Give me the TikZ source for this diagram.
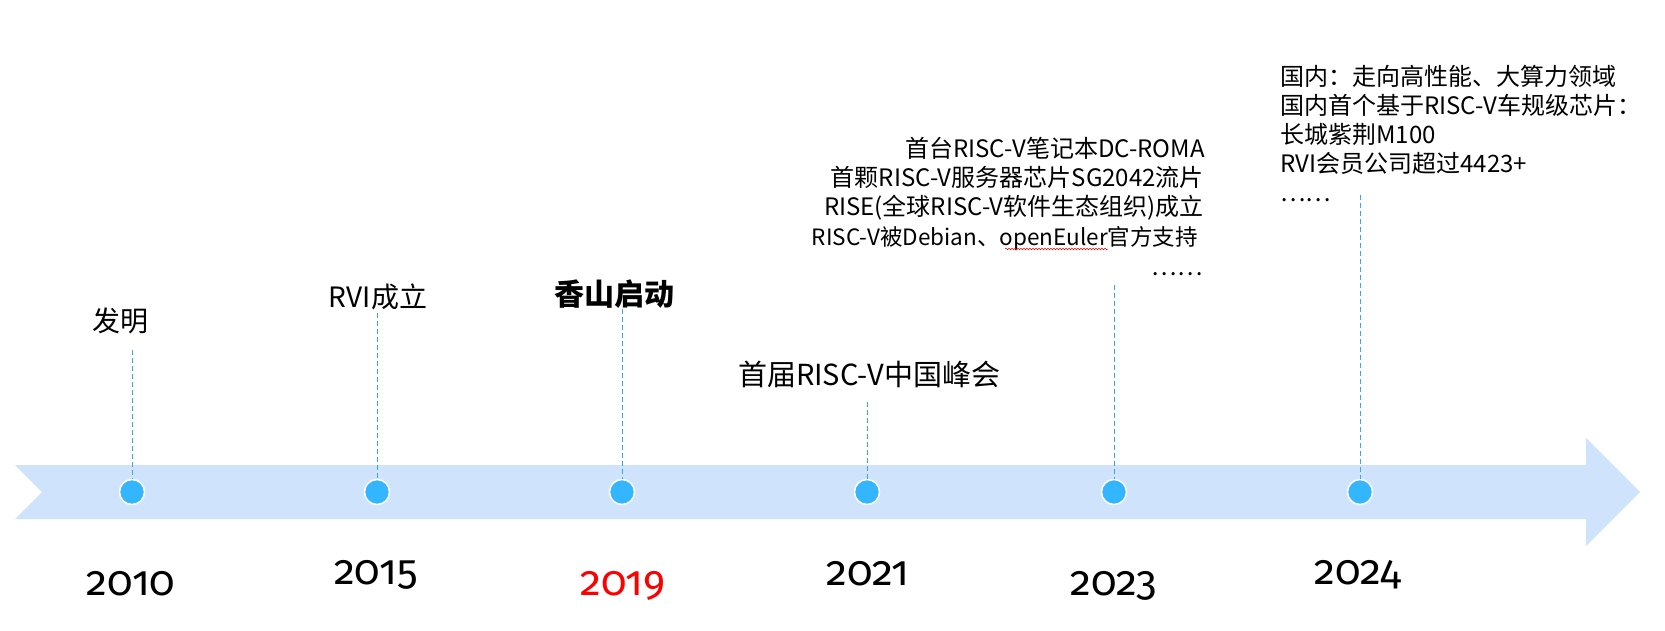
\documentclass[tikz,border=0pt]{standalone}
\usepackage{fontspec}
\newfontfamily\cjk{Noto Sans CJK SC}
\newfontfamily\yearfont[Numbers=OldStyle]{Fira Sans}
\usetikzlibrary{decorations.pathmorphing}
\definecolor{bandblue}{RGB}{207,228,252}
\definecolor{dotblue}{RGB}{51,181,255}
\definecolor{dashblue}{RGB}{58,168,232}
\definecolor{yearred}{RGB}{255,0,0}
\begin{document}
\begin{tikzpicture}[x=1pt,y=-1pt,
  dotnode/.style={circle,fill=dotblue,draw=white,line width=1.5pt,minimum size=25pt,inner sep=0pt},
  guide/.style={dashblue,line width=0.9pt,dash pattern=on 5pt off 3pt},
  yearlbl/.style={font=\yearfont\fontsize{42}{42}\selectfont,anchor=base,inner sep=0pt},
  evt/.style={font=\cjk\fontsize{28}{28}\selectfont,inner sep=0pt},
  blkline/.style={font=\cjk\fontsize{24}{24}\selectfont,inner sep=0pt}]
\useasboundingbox (0,0) rectangle (1665,631);
\fill[white] (0,0) rectangle (1665,631);
% band arrow
\fill[bandblue] (15,465) -- (1586,465) -- (1586,438) -- (1640,492) -- (1586,546)
  -- (1586,519) -- (15,519) -- (42,492) -- cycle;
% dots
\node[dotnode] (d10) at (132,492) {};
\node[dotnode] (d15) at (377,492) {};
\node[dotnode] (d19) at (622,492) {};
\node[dotnode] (d21) at (867,492) {};
\node[dotnode] (d23) at (1114,492) {};
\node[dotnode] (d24) at (1360,492) {};
% guide tops
\coordinate (g10) at (132,350);
\coordinate (g15) at (377,313);
\coordinate (g19) at (622,309);
\coordinate (g21) at (867,402);
\coordinate (g23) at (1114,285);
\coordinate (g24) at (1360,195);
\draw[guide] (g10) -- (d10.north);
\draw[guide] (g15) -- (d15.north);
\draw[guide] (g19) -- (d19.north);
\draw[guide] (g21) -- (d21.north);
\draw[guide] (g23) -- (d23.north);
\draw[guide] (g24) -- (d24.north);
% years
\node[yearlbl] (y10) at (131,595) {2010};
\node[yearlbl] (y15) at (376,584) {2015};
\node[yearlbl,text=yearred] (y19) at (623,595) {2019};
\node[yearlbl] (y21) at (868,585) {2021};
\node[yearlbl] (y23) at (1114,595) {2023};
\node[yearlbl] (y24) at (1358,584) {2024};
% event labels
\node[evt] (e10) at (120,321) {发明};
\node[evt] (e15) at (378,297) {RVI成立};
\node[evt,font=\cjk\bfseries\fontsize{30}{30}\selectfont] (e19) at (614,294) {香山启动};
\node[evt,font=\cjk\fontsize{29}{29}\selectfont] (e21) at (869,374) {首届RISC-V中国峰会};
% 2023 block
\node[blkline,anchor=base east] (a1) at (1205,158) {首台RISC-V笔记本DC-ROMA};
\node[blkline,anchor=base east] (a2) at (1204,187) {首颗RISC-V服务器芯片SG2042流片};
\node[blkline,anchor=base east] (a3) at (1204,216) {RISE(全球RISC-V软件生态组织)成立};
\node[blkline,anchor=base east,font=\cjk\fontsize{22.5}{22.5}\selectfont] (a4) at (1198,245) {RISC-V被Debian、openEuler官方支持};
\node[blkline,anchor=base east] (a5) at (1203,275) {……};
\draw[red,line width=0.5pt,decorate,decoration={snake,amplitude=0.8pt,segment length=3pt}] (1005,249) -- (1108,249);
% 2024 block
\node[blkline,anchor=base west] (b1) at (1280,86) {国内：走向高性能、大算力领域};
\node[blkline,anchor=base west] (b2) at (1280,115) {国内首个基于RISC-V车规级芯片：};
\node[blkline,anchor=base west] (b3) at (1280,144) {长城紫荆M100};
\node[blkline,anchor=base west] (b4) at (1280,173) {RVI会员公司超过4423+};
\node[blkline,anchor=base west] (b5) at (1280,202) {……};
\end{tikzpicture}
\end{document}
